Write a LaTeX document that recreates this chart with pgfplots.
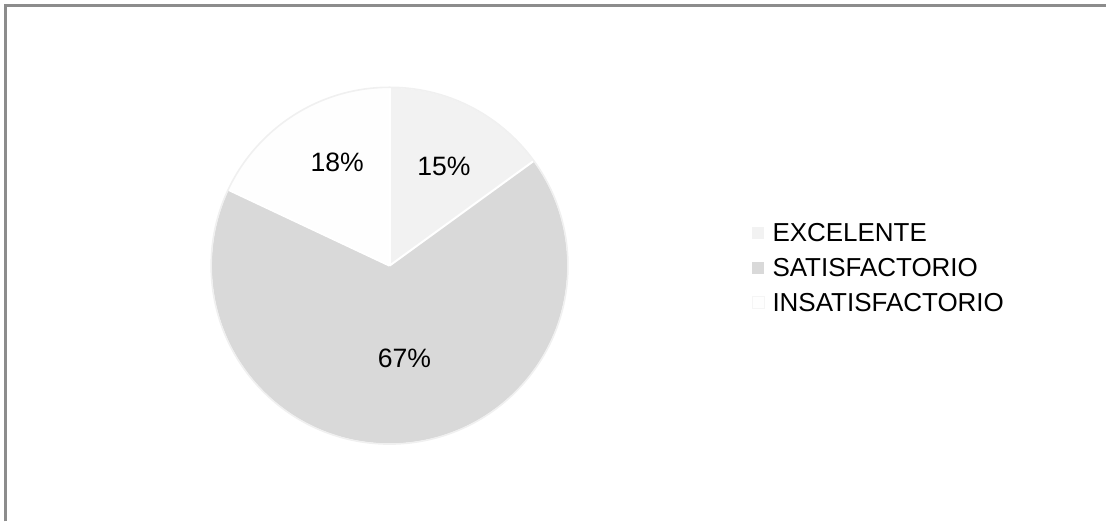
\documentclass[border=0pt]{standalone}
\usepackage{pgfplots}
\usepackage{pgfplotstable}
\pgfplotsset{compat=1.18}
\usepackage{fontspec}
\setmainfont{Liberation Sans}

\definecolor{cExc}{HTML}{F2F2F2}
\definecolor{cSat}{HTML}{D9D9D9}
\definecolor{cIns}{HTML}{FEFEFE}
\definecolor{frame}{HTML}{8C8C8C}

% share of each answer (percent)
\pgfplotstableread{
label value
EXCELENTE 15
SATISFACTORIO 67
INSATISFACTORIO 18
}\piedata

\pgfplotstablegetelem{0}{value}\of\piedata \let\vA\pgfplotsretval
\pgfplotstablegetelem{1}{value}\of\piedata \let\vB\pgfplotsretval
\pgfplotstablegetelem{2}{value}\of\piedata \let\vC\pgfplotsretval
\pgfmathsetmacro\aA{90}
\pgfmathsetmacro\aB{\aA-3.6*\vA}
\pgfmathsetmacro\aC{\aB-3.6*\vB}
\pgfmathsetmacro\aD{\aC-3.6*\vC}

\newcommand\slice[3]{%
  \fill[#3] (axis cs:390,256) -- ++(#1:89pt)
    arc[start angle=#1, end angle=#2, radius=89pt] -- cycle;}
\newcommand\sep[1]{%
  \draw[white, line width=1pt] (axis cs:390,256) -- ++(#1:89pt);}

\begin{document}
\begin{tikzpicture}
\begin{axis}[
    x=0.5pt, y=0.5pt,
    xmin=0, xmax=1107, ymin=0, ymax=522,
    hide axis, clip=false,
]
\path (axis cs:0,0) (axis cs:1107,522);
% frame
\draw[frame, line width=1.3pt] (axis cs:5.3,0) -- (axis cs:5.3,516.7) -- (axis cs:1107,516.7);
% pie
\slice{\aA}{\aB}{cExc}
\slice{\aB}{\aC}{cSat}
\slice{\aC}{\aD}{cIns}
\sep{\aA}\sep{\aB}\sep{\aC}
\draw[gray!12, line width=0.8pt] (axis cs:390,256) circle[radius=89.3pt];
% labels
\node[font=\fontsize{13.3}{16}\selectfont] at (axis cs:337.5,359) {18\%};
\node[font=\fontsize{13.3}{16}\selectfont] at (axis cs:444.5,355) {15\%};
\node[font=\fontsize{13.3}{16}\selectfont] at (axis cs:405,163) {67\%};
% legend
\fill[cExc] (axis cs:753,283) rectangle (axis cs:765,295);
\fill[cSat] (axis cs:753,248) rectangle (axis cs:765,260);
\filldraw[fill=cIns, draw=gray!8, line width=0.3pt] (axis cs:753,213) rectangle (axis cs:765,225);
\node[anchor=west, inner sep=0pt, font=\fontsize{13}{16}\selectfont] at (axis cs:773,289) {EXCELENTE};
\node[anchor=west, inner sep=0pt, font=\fontsize{13}{16}\selectfont] at (axis cs:773,254) {SATISFACTORIO};
\node[anchor=west, inner sep=0pt, font=\fontsize{13}{16}\selectfont] at (axis cs:773,219) {INSATISFACTORIO};
\end{axis}
\end{tikzpicture}
\end{document}
